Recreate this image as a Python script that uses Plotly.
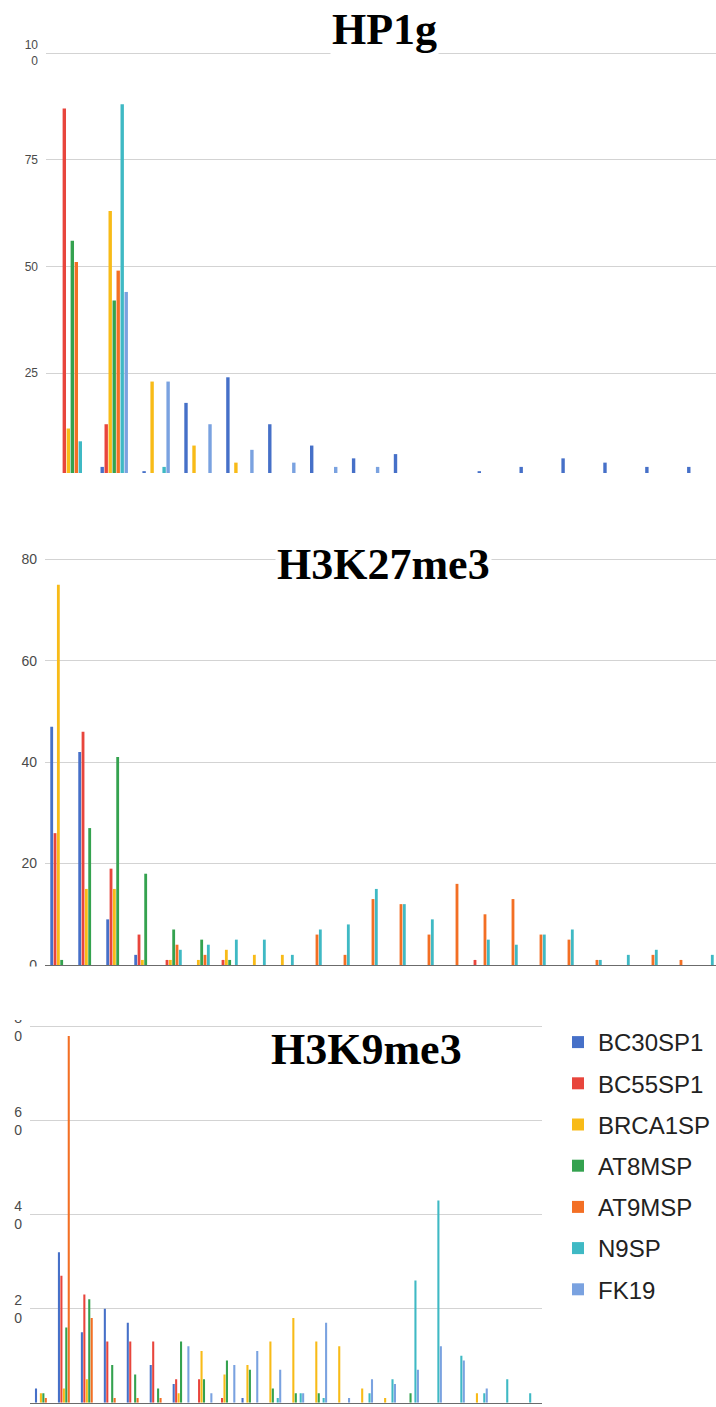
import plotly.graph_objects as go

FIG_W, FIG_H = 716, 1407

series_names = ["BC30SP1", "BC55SP1", "BRCA1SP", "AT8MSP", "AT9MSP", "N9SP", "FK19"]
series_colors = ["#4670c8", "#e8453c", "#f8bb18", "#34a24f", "#f36f24", "#3fb9c4", "#7aa2e0"]

# ---- HP1g (16 regions) ----
hp1g_categories = [str(i) for i in range(1, 17)]
hp1g_bc30sp1 = [0, 3, 2, 18, 24, 13, 8, 5, 6, 0, 2, 3, 5, 4, 3, 3]
hp1g_bc55sp1 = [87, 13, 0, 0, 0, 0, 0, 0, 0, 0, 0, 0, 0, 0, 0, 0]
hp1g_brca1sp = [12, 63, 23, 8, 4, 0, 0, 0, 0, 0, 0, 0, 0, 0, 0, 0]
hp1g_at8msp = [56, 42, 0, 0, 0, 0, 0, 0, 0, 0, 0, 0, 0, 0, 0, 0]
hp1g_at9msp = [51, 49, 0, 0, 0, 0, 0, 0, 0, 0, 0, 0, 0, 0, 0, 0]
hp1g_n9sp = [9, 88, 3, 0, 0, 0, 0, 0, 0, 0, 0, 0, 0, 0, 0, 0]
hp1g_fk19 = [0, 44, 23, 13, 7, 4, 3, 3, 0, 0, 0, 0, 0, 0, 0, 0]

# ---- H3K27me3 (24 regions) ----
k27_categories = [str(i) for i in range(1, 25)]
k27_bc30sp1 = [47, 42, 9, 2, 0, 0, 0, 0, 0, 0, 0, 0, 0, 0, 0, 0, 0, 0, 0, 0, 0, 0, 0, 0]
k27_bc55sp1 = [26, 46, 19, 6, 1, 0, 1, 0, 0, 0, 0, 0, 0, 0, 0, 1, 0, 0, 0, 0, 0, 0, 0, 0]
k27_brca1sp = [75, 15, 15, 1, 1, 1, 3, 2, 2, 0, 0, 0, 0, 0, 0, 0, 0, 0, 0, 0, 0, 0, 0, 0]
k27_at8msp = [1, 27, 41, 18, 7, 5, 1, 0, 0, 0, 0, 0, 0, 0, 0, 0, 0, 0, 0, 0, 0, 0, 0, 0]
k27_at9msp = [0, 0, 0, 0, 4, 2, 0, 0, 0, 6, 2, 13, 12, 6, 16, 10, 13, 6, 5, 1, 0, 2, 1, 0]
k27_n9sp = [0, 0, 0, 0, 3, 4, 5, 5, 2, 7, 8, 15, 12, 9, 0, 5, 4, 6, 7, 1, 2, 3, 0, 2]
k27_fk19 = [0] * 24

# ---- H3K9me3 (22 regions) ----
k9_categories = [str(i) for i in range(1, 23)]
k9_bc30sp1 = [3, 32, 15, 20, 17, 8, 4, 0, 0, 1, 0, 0, 0, 0, 0, 0, 0, 0, 0, 0, 0, 0]
k9_bc55sp1 = [0, 27, 23, 13, 13, 13, 5, 5, 1, 0, 0, 0, 0, 0, 0, 0, 0, 0, 0, 0, 0, 0]
k9_brca1sp = [2, 3, 5, 0, 0, 0, 2, 11, 6, 8, 13, 18, 13, 12, 3, 1, 0, 0, 0, 2, 0, 0]
k9_at8msp = [2, 16, 22, 8, 6, 3, 13, 5, 9, 7, 3, 2, 2, 0, 0, 0, 2, 0, 0, 0, 0, 0]
k9_at9msp = [1, 78, 18, 1, 1, 1, 0, 0, 0, 0, 0, 0, 0, 0, 0, 0, 0, 0, 0, 0, 0, 0]
k9_n9sp = [0, 0, 0, 0, 0, 0, 0, 0, 0, 0, 1, 2, 1, 0, 2, 5, 26, 43, 10, 2, 5, 2]
k9_fk19 = [0, 0, 0, 0, 0, 0, 12, 2, 8, 11, 7, 2, 17, 1, 5, 4, 7, 12, 9, 3, 0, 0]

panels = [
    {
        "title": "HP1g",
        "categories": hp1g_categories,
        "series": [hp1g_bc30sp1, hp1g_bc55sp1, hp1g_brca1sp, hp1g_at8msp,
                   hp1g_at9msp, hp1g_n9sp, hp1g_fk19],
        "tickvals": [25, 50, 75, 100],
        "ticktext": ["25", "50", "75", "10<br>0"],
    },
    {
        "title": "H3K27me3",
        "categories": k27_categories,
        "series": [k27_bc30sp1, k27_bc55sp1, k27_brca1sp, k27_at8msp,
                   k27_at9msp, k27_n9sp, k27_fk19],
        "tickvals": [0, 20, 40, 60, 80],
        "ticktext": ["0", "20", "40", "60", "80"],
    },
    {
        "title": "H3K9me3",
        "categories": k9_categories,
        "series": [k9_bc30sp1, k9_bc55sp1, k9_brca1sp, k9_at8msp,
                   k9_at9msp, k9_n9sp, k9_fk19],
        "tickvals": [0, 20, 40, 60, 80],
        "ticktext": ["0", "2<br>0", "4<br>0", "6<br>0", "8<br>0"],
    },
]


def px_x(px):
    return px / FIG_W


def px_y(py):
    return 1 - py / FIG_H


# Pixel box of each plot area (left, right, top, bottom), the value at the top and
# bottom of that box, and the bar step in category units.  The boxes reach 2px above
# the top gridline so that Plotly keeps drawing it.
geometry = [
    dict(box=(46, 716, 51, 473), xr=(-0.628, 15.363), yr=(1.57, 100.47), step=0.0955,
         font=12, baseline=False, title_xy=(384.5, 30), title_bg=True),
    dict(box=(45, 716, 557.3, 965), xr=(-0.596, 23.37), yr=(0, 80.394), step=0.119,
         font=14, baseline=True, title_xy=(383, 564), title_bg=True),
    dict(box=(30, 541.7, 1024.7, 1402.7), xr=(-0.582, 21.715), yr=(0, 80.4255), step=0.1068,
         font=14, baseline=True, title_xy=(366.7, 1049), title_bg=False),
]

fig = go.Figure()
layout = {}

for p_idx, (panel, geo) in enumerate(zip(panels, geometry)):
    n = p_idx + 1
    xa = "x" if n == 1 else f"x{n}"
    ya = "y" if n == 1 else f"y{n}"
    xpos = list(range(len(panel["categories"])))
    s = geo["step"]
    bw = 0.85 * s
    for i, (name, color, vals) in enumerate(zip(series_names, series_colors, panel["series"])):
        fig.add_trace(go.Bar(
            x=xpos, y=vals, name=name,
            marker=dict(color=color, line=dict(width=0)),
            width=bw, offset=(i - 3) * s - bw / 2,
            xaxis=xa, yaxis=ya,
            legendgroup=name, showlegend=(n == 3),
            hovertext=panel["categories"],
        ))

    x0, x1, y0, y1 = geo["box"]
    xkey = "xaxis" if n == 1 else f"xaxis{n}"
    ykey = "yaxis" if n == 1 else f"yaxis{n}"
    layout[xkey] = dict(
        domain=[px_x(x0), px_x(x1)], range=list(geo["xr"]), anchor=ya,
        showgrid=False, zeroline=False, showticklabels=False, ticks="",
        showline=geo["baseline"], linecolor="#6b6b6b", linewidth=1,
    )
    layout[ykey] = dict(
        domain=[px_y(y1), px_y(y0)], range=list(geo["yr"]), anchor=xa,
        showgrid=True, gridcolor="#d3d3d3", gridwidth=1, zeroline=False,
        tickvals=panel["tickvals"], ticktext=panel["ticktext"],
        tickfont=dict(family="Liberation Sans, Arial, sans-serif", size=geo["font"], color="#4a4a4a"),
        ticks="", ticklabelstandoff=7, showline=False,
    )

annotations = []
for panel, geo in zip(panels, geometry):
    tx, ty = geo["title_xy"]
    annotations.append(dict(
        text=f"<b>{panel['title']}</b>", xref="paper", yref="paper",
        x=px_x(tx), y=px_y(ty), xanchor="center", yanchor="middle",
        showarrow=False,
        font=dict(family="Liberation Serif, Times New Roman, serif", size=44, color="#000000"),
        bgcolor="#ffffff" if geo["title_bg"] else "rgba(0,0,0,0)", borderpad=1,
    ))

# the three charts come from separate cut-outs: trim the axis labels at the seam
shapes = [dict(
    type="rect", xref="paper", yref="paper", layer="above",
    x0=0, x1=px_x(43), y0=px_y(1020), y1=px_y(966.5),
    fillcolor="#ffffff", line=dict(width=0),
)]

fig.update_layout(
    **layout,
    template="none",
    width=FIG_W, height=FIG_H, autosize=False,
    margin=dict(l=0, r=0, t=0, b=0, pad=0),
    paper_bgcolor="#ffffff", plot_bgcolor="#ffffff",
    barmode="overlay",
    annotations=annotations,
    shapes=shapes,
    legend=dict(
        x=px_x(558), y=px_y(1020), xanchor="left", yanchor="top",
        font=dict(family="Liberation Sans, Arial, sans-serif", size=24, color="#222222"),
        traceorder="grouped", tracegroupgap=7, bgcolor="rgba(0,0,0,0)",
        borderwidth=0,
    ),
    showlegend=True,
)

fig.write_html("out.html")
